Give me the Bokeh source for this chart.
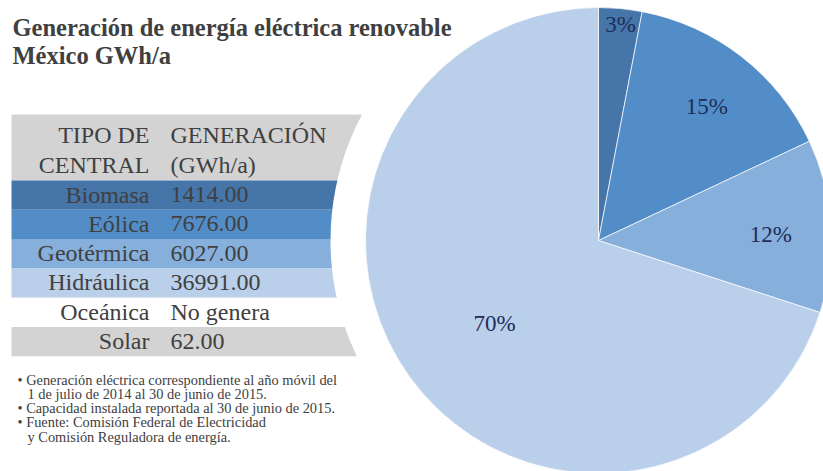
import numpy as np
from bokeh.plotting import figure
from bokeh.models import Range1d, ColumnDataSource
from bokeh.core.properties import value
from bokeh.embed import file_html
from bokeh.resources import INLINE

# ---------------- data ----------------
title_lines = ["Generación de energía eléctrica renovable", "México GWh/a"]
header_left = ["TIPO DE", "CENTRAL"]
header_right = ["GENERACIÓN", "(GWh/a)"]
tipos = ["Biomasa", "Eólica", "Geotérmica", "Hidráulica", "Oceánica", "Solar"]
generacion = ["1414.00", "7676.00", "6027.00", "36991.00", "No genera", "62.00"]
pie_names = ["Biomasa", "Eólica", "Geotérmica", "Hidráulica"]
pie_pct = [3, 15, 12, 70]
pie_labels = ["3%", "15%", "12%", "70%"]
notes = [
    "• Generación eléctrica correspondiente al año móvil del",
    "1 de julio de 2014 al 30 de junio de 2015.",
    "• Capacidad instalada reportada al 30 de junio de 2015.",
    "• Fuente: Comisión Federal de Electricidad",
    "y Comisión Reguladora de energía.",
]
note_indent = [0, 1, 0, 0, 1]

# ---------------- styles ----------------
row_colors = ["#4575A9", "#538DC8", "#86AFDC", "#BACFEA", "#FFFFFF", "#D3D3D3"]
pie_colors = ["#4575A9", "#538DC8", "#86AFDC", "#BACFEA"]
header_color = "#D3D3D3"
text_color = "#404040"
label_color = "#1F2D5A"
label_r = [0.93, 0.74, 0.74, 0.57]   # radial position of labels (fraction of radius)
label_t = [0.54, 0.52, 0.54, 0.49]   # angular position within slice
SERIF = value("Liberation Serif")

W, H = 823, 471


def Y(py):
    return H - py


p = figure(width=W, height=H, x_range=Range1d(0, W), y_range=Range1d(0, H),
           output_backend="svg", toolbar_location=None, min_border=0)
p.xaxis.visible = False
p.yaxis.visible = False
p.grid.visible = False
p.outline_line_color = None
p.background_fill_color = "white"
p.border_fill_color = "white"

# ---------------- table backgrounds ----------------
tbl_left, tbl_right = 11, 420
head_top, head_bot = 114, 180
row_h = 29.3
p.quad(left=[tbl_left], right=[tbl_right], top=[Y(head_top)], bottom=[Y(head_bot)],
       fill_color=header_color, line_color=None)
n = len(tipos)
tops = [head_bot + i * row_h for i in range(n)]
rows = ColumnDataSource(dict(
    left=[tbl_left] * n, right=[tbl_right] * n,
    top=[Y(t) for t in tops], bottom=[Y(t + row_h) for t in tops],
    color=row_colors,
))
p.quad(left="left", right="right", top="top", bottom="bottom", fill_color="color",
       line_color=None, source=rows)

# ---------------- pie ----------------
cx, cy, R = 598, Y(240), 233
# white ring cutting the table
p.circle(x=[cx], y=[cy], radius=R + 35, fill_color="white", line_color=None)

frac = np.array(pie_pct, dtype=float) / np.sum(pie_pct)
cum = np.concatenate([[0], np.cumsum(frac)])
start = np.pi / 2 - cum[:-1] * 2 * np.pi
end = np.pi / 2 - cum[1:] * 2 * np.pi
pie = ColumnDataSource(dict(start=start, end=end, color=pie_colors, name=pie_names))
p.wedge(x=cx, y=cy, radius=R, start_angle="end", end_angle="start",
        fill_color="color", line_color="white", line_width=0.7, source=pie)

la = start + np.array(label_t) * (end - start)
lx = cx + np.array(label_r) * R * np.cos(la)
ly = cy + np.array(label_r) * R * np.sin(la)
p.text(x=lx, y=ly, text=pie_labels, text_font=SERIF, text_font_size="23px",
       text_color=label_color, text_align="center", text_baseline="middle")

# ---------------- title ----------------
p.text(x=[12, 12], y=[Y(27), Y(54.5)], text=title_lines, text_font=SERIF,
       text_font_size="24.5px", text_font_style="bold", text_color=text_color,
       text_align="left", text_baseline="middle")

# ---------------- table texts ----------------
col_split_r, col_split_l = 149, 170
p.text(x=[col_split_r] * 2, y=[Y(134), Y(164)], text=header_left, text_font=SERIF,
       text_font_size="24px", text_color=text_color, text_align="right",
       text_baseline="middle")
p.text(x=[col_split_l] * 2, y=[Y(134), Y(164)], text=header_right, text_font=SERIF,
       text_font_size="24px", text_color=text_color, text_align="left",
       text_baseline="middle")
mids = [Y(t + 14) for t in tops]
p.text(x=[col_split_r] * n, y=mids, text=tipos, text_font=SERIF, text_font_size="24px",
       text_color=text_color, text_align="right", text_baseline="middle")
p.text(x=[col_split_l] * n, y=mids, text=generacion, text_font=SERIF,
       text_font_size="24px", text_color=text_color, text_align="left",
       text_baseline="middle")

# ---------------- notes ----------------
note_y = [Y(379 + i * 14.3) for i in range(len(notes))]
note_x = [17 + 10 * k for k in note_indent]
p.text(x=note_x, y=note_y, text=notes, text_font=SERIF, text_font_size="14.4px",
       text_color=text_color, text_align="left", text_baseline="middle")

open("out.html", "w").write(file_html(p, INLINE))
